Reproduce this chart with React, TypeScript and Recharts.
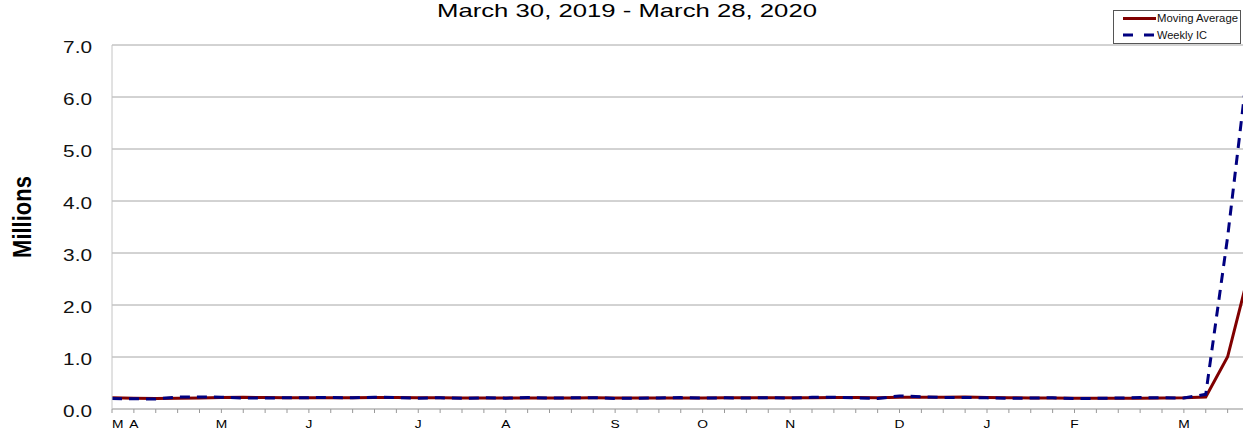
import React from "react";
import { CartesianGrid, Legend, Line, LineChart, XAxis, YAxis } from "recharts";

// week-ending dates, March 30, 2019 - March 28, 2020
const weekEnding = [
  "2019-03-30", "2019-04-06", "2019-04-13", "2019-04-20", "2019-04-27", "2019-05-04", "2019-05-11",
  "2019-05-18", "2019-05-25", "2019-06-01", "2019-06-08", "2019-06-15", "2019-06-22", "2019-06-29",
  "2019-07-06", "2019-07-13", "2019-07-20", "2019-07-27", "2019-08-03", "2019-08-10", "2019-08-17",
  "2019-08-24", "2019-08-31", "2019-09-07", "2019-09-14", "2019-09-21", "2019-09-28", "2019-10-05",
  "2019-10-12", "2019-10-19", "2019-10-26", "2019-11-02", "2019-11-09", "2019-11-16", "2019-11-23",
  "2019-11-30", "2019-12-07", "2019-12-14", "2019-12-21", "2019-12-28", "2020-01-04", "2020-01-11",
  "2020-01-18", "2020-01-25", "2020-02-01", "2020-02-08", "2020-02-15", "2020-02-22", "2020-02-29",
  "2020-03-07", "2020-03-14", "2020-03-21", "2020-03-28",
];

const monthLabels = [
  "M", "A", "", "", "", "M", "", "", "", "J", "", "", "", "",
  "J", "", "", "", "A", "", "", "", "", "S", "", "", "", "O",
  "", "", "", "N", "", "", "", "", "D", "", "", "", "J", "",
  "", "", "F", "", "", "", "", "M", "", "", "",
];

// millions
const weeklyIC = [
  0.202, 0.196, 0.192, 0.23, 0.23, 0.228, 0.212, 0.211, 0.215, 0.218, 0.222, 0.216, 0.227, 0.221,
  0.209, 0.216, 0.206, 0.215, 0.209, 0.22, 0.209, 0.215, 0.217, 0.204, 0.208, 0.213, 0.219, 0.21,
  0.214, 0.212, 0.218, 0.211, 0.225, 0.227, 0.213, 0.203, 0.252, 0.235, 0.222, 0.222, 0.214, 0.204,
  0.211, 0.216, 0.202, 0.205, 0.21, 0.219, 0.216, 0.211, 0.282, 3.307, 6.867,
];

const movingAverage = [
  0.216, 0.208, 0.2, 0.205, 0.212, 0.22, 0.225, 0.22, 0.217, 0.214, 0.217, 0.218, 0.221, 0.222,
  0.218, 0.218, 0.213, 0.212, 0.212, 0.213, 0.213, 0.213, 0.215, 0.211, 0.211, 0.211, 0.211, 0.213,
  0.214, 0.214, 0.214, 0.214, 0.217, 0.22, 0.219, 0.217, 0.224, 0.226, 0.228, 0.233, 0.223, 0.216,
  0.213, 0.211, 0.208, 0.209, 0.208, 0.209, 0.213, 0.214, 0.232, 1.004, 2.667,
];

const yTicks = [0, 1, 2, 3, 4, 5, 6, 7];

const data = weekEnding.map((date, i) => ({
  i,
  date,
  weekly: weeklyIC[i],
  avg: movingAverage[i],
}));
const weekTicks = data.map((d) => d.i);

const FONT = "Arial, 'Liberation Sans', sans-serif";

function XTick({ x, payload }: any) {
  const label = monthLabels[payload.value];
  if (!label) return null;
  return (
    <g transform={`translate(${x},428) scale(1.2,1)`}>
      <text textAnchor={payload.value === 0 ? "start" : "middle"} fontSize={11.5} fontFamily={FONT} fill="#000">
        {label}
      </text>
    </g>
  );
}

function YTick({ y, payload }: any) {
  return (
    <g transform={`translate(92,${y + 8}) scale(1.3,1)`}>
      <text textAnchor="end" fontSize={16} fontFamily={FONT} fill="#111">
        {payload.value.toFixed(1)}
      </text>
    </g>
  );
}

function LegendBox() {
  return (
    <svg width={128} height={34} style={{ display: "block" }}>
      <rect x={0.5} y={0.5} width={127} height={33} fill="#fff" stroke="#555" />
      <line x1={10} y1={8.5} x2={43} y2={8.5} stroke="#800000" strokeWidth={3} />
      <text x={44} y={12} fontSize={10} fontFamily={FONT} fill="#111" textLength={81} lengthAdjust="spacingAndGlyphs">
        Moving Average
      </text>
      <line x1={10} y1={25} x2={43} y2={25} stroke="#000080" strokeWidth={3} strokeDasharray="10 11" />
      <text x={44} y={28.5} fontSize={10} fontFamily={FONT} fill="#111" textLength={50} lengthAdjust="spacingAndGlyphs">
        Weekly IC
      </text>
    </svg>
  );
}

export default function App() {
  return (
    <div style={{ position: "absolute", left: 0, top: 0, width: 1243, height: 433, overflow: "hidden", background: "#fff" }}>
      <LineChart width={1260} height={433} data={data} margin={{ top: 45, right: 10.5, bottom: 0, left: 12 }}>
        <CartesianGrid vertical={false} stroke="#a6a6a6" />
        <XAxis
          dataKey="i"
          type="number"
          domain={[0, 52]}
          ticks={weekTicks}
          interval={0}
          height={24}
          tickSize={4}
          tickLine={{ stroke: "#999" }}
          axisLine={{ stroke: "#bbb" }}
          tick={<XTick />}
        />
        <YAxis
          type="number"
          domain={[0, 7]}
          ticks={yTicks}
          width={100}
          tickLine={false}
          axisLine={{ stroke: "#c4c4c4" }}
          tick={<YTick />}
        />
        <Legend
          layout="vertical"
          align="center"
          verticalAlign="middle"
          content={() => <LegendBox />}
          wrapperStyle={{ top: 10, left: 1113, width: 128, height: 34 }}
        />
        <Line type="linear" dataKey="avg" name="Moving Average" stroke="#800000" strokeWidth={3} dot={false} isAnimationActive={false} />
        <Line type="linear" dataKey="weekly" name="Weekly IC" stroke="#000080" strokeWidth={3} strokeDasharray="10 7" dot={false} isAnimationActive={false} />
      </LineChart>
      <svg width={1243} height={433} style={{ position: "absolute", left: 0, top: 0, pointerEvents: "none" }}>
        <text x={437} y={16.5} fontSize={19} fontFamily={FONT} fill="#000" textLength={380} lengthAdjust="spacingAndGlyphs">
          March 30, 2019 - March 28, 2020
        </text>
        <g transform="translate(31,217) scale(1.15,1) rotate(-90)">
          <text textAnchor="middle" fontSize={22} fontWeight="bold" fontFamily={FONT} fill="#000">
            Millions
          </text>
        </g>
      </svg>
    </div>
  );
}
